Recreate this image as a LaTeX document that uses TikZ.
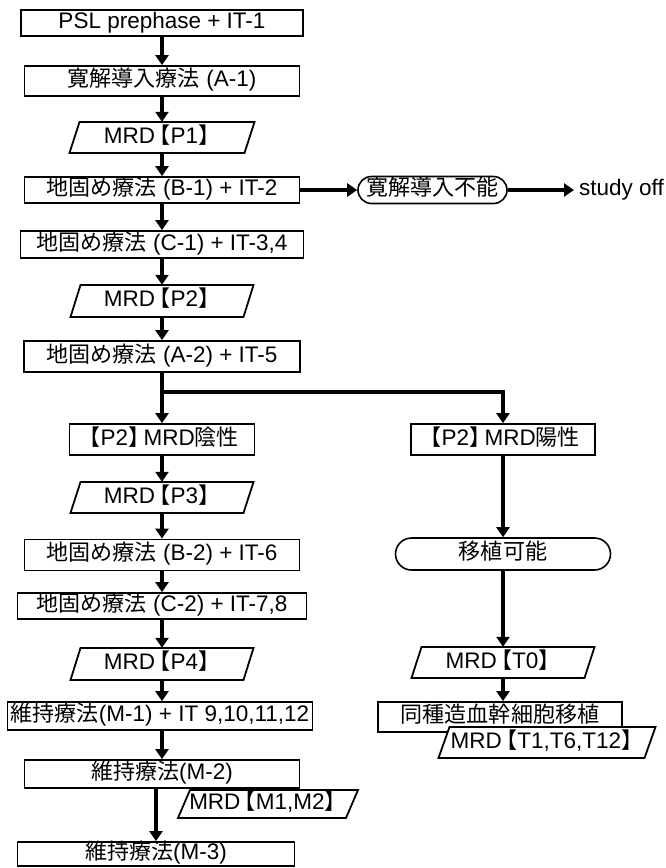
\documentclass[tikz,border=0pt]{standalone}
\usepackage{fontspec}
\setmainfont{Liberation Sans}
\newfontfamily\jp{Noto Sans CJK JP}[Scale=0.98]
\usetikzlibrary{arrows.meta}

% tightened lenticular brackets
\newcommand\lbr{{\jp\hspace{-0.3em}【}}
\newcommand\rbr{{\jp】\hspace{-0.3em}}}

% slanted data box: name, centre x, centre y, half width at mid height, height, slant, text
\newcommand\mrdbox[7]{%
  \draw[pshape] (#2-#4-#6/2,#3+#5/2) -- (#2-#4+#6/2,#3-#5/2)
    -- (#2+#4+#6/2,#3-#5/2) -- (#2+#4-#6/2,#3+#5/2) -- cycle;
  \node[minimum width=2*#4, minimum height=#5] (#1) at (#2,#3) {#7};
}

\begin{document}
\begin{tikzpicture}[x=1pt,y=-1pt,
  every node/.style={font={\fontsize{22.5}{25}\selectfont}, inner sep=0pt,
    text height=15pt, text depth=3.3pt},
  box/.style={draw, line width=1.8pt, fill=white, rectangle},
  stadium/.style={draw, line width=1.6pt, fill=white, rectangle, rounded corners=#1},
  pshape/.style={draw, line width=1.8pt, fill=white, line join=miter},
  arr/.style={line width=3.5pt, -{Triangle[length=10pt,width=13pt]}},
]
\useasboundingbox (0,0) rectangle (666,868);

% main sequence (left column)
\node[box, minimum width=282, minimum height=26] (n1) at (162,23) {PSL prephase + IT-1};
\node[box, minimum width=275, minimum height=30] (n2) at (162,81) {{\jp 寛解導入療法} (A-1)};
\mrdbox{p1}{162}{137.5}{87.5}{31}{10}{MRD\lbr P1\rbr}
\node[box, minimum width=275, minimum height=26] (n4) at (162,190) {{\jp 地固め療法} (B-1) + IT-2};
\node[box, minimum width=283, minimum height=27] (n5) at (162,244.5) {{\jp 地固め療法} (C-1) + IT-3,4};
\mrdbox{p2}{162}{301}{86.5}{32}{10}{MRD\lbr P2\rbr}
\node[box, minimum width=276, minimum height=31] (n7) at (162,356.5) {{\jp 地固め療法} (A-2) + IT-5};
\coordinate (j) at (162,392);
\coordinate (jr) at (503,392);
\node[box, minimum width=185, minimum height=31] (n8) at (162,439.5) {\lbr P2\rbr MRD{\jp 陰性}};
\mrdbox{p3}{162}{497.5}{86.5}{31}{10}{MRD\lbr P3\rbr}
\node[box, minimum width=275, minimum height=31] (n10) at (162,555) {{\jp 地固め療法} (B-2) + IT-6};
\node[box, minimum width=289, minimum height=26] (n11) at (162,606) {{\jp 地固め療法} (C-2) + IT-7,8};
\mrdbox{p4}{162}{664}{86.5}{32}{10}{MRD\lbr P4\rbr}
\node[box, minimum width=305, minimum height=28] (n12) at (160,716) {{\jp 維持療法}(M-1) + IT 9,10,11,12};
\node[box, minimum width=275, minimum height=28] (n13) at (162,774) {{\jp 維持療法}(M-2)};
\mrdbox{pm}{268}{804}{84}{28}{12}{MRD\lbr M1,M2\rbr}
\node[box, minimum width=277, minimum height=24] (n14) at (156,854) {{\jp 維持療法}(M-3)};

% induction failure exit
\node[stadium=13.5pt, minimum width=149, minimum height=27] (nofail) at (432.5,190) {{\jp 寛解導入不能}};
\node[anchor=west] (off) at (579,190) {study off};

% MRD positive branch (right column)
\node[box, minimum width=184, minimum height=31] (n9) at (503,439.5) {\lbr P2\rbr MRD{\jp 陽性}};
\node[stadium=16pt, minimum width=215, minimum height=32] (n15) at (503,554) {{\jp 移植可能}};
\mrdbox{t0}{503}{662.5}{86.5}{31}{10}{MRD\lbr T0\rbr}
\node[box, minimum width=244, minimum height=30] (n16) at (500,717) {{\jp 同種造血幹細胞移植}};
\mrdbox{t1}{547}{742.5}{103}{31}{11}{MRD\lbr T1,T6,T12\rbr}

% connectors
\draw[arr] (n1) -- (n2);
\draw[arr] (n2) -- (p1);
\draw[arr] (p1) -- (n4);
\draw[arr] (n4) -- (n5);
\draw[arr] (n5) -- (p2);
\draw[arr] (p2) -- (n7);
\draw[arr] (n7) -- (j) -- (n8);
\draw[arr] (j) -- (jr) -- (n9);
\draw[arr] (n8) -- (p3);
\draw[arr] (p3) -- (n10);
\draw[arr] (n10) -- (n11);
\draw[arr] (n11) -- (p4);
\draw[arr] (p4.south) -- (p4.south |- n12.north);
\draw[arr] (n12.south -| n13.north) -- (n13.north);
\draw[arr] (n13.south -| n14.north) -- (n14.north);

\draw[arr] (n4) -- (nofail);
\draw[arr] (nofail) -- ([xshift=-5pt]off.west);

\draw[arr] (n9) -- (n15);
\draw[arr] (n15) -- (t0);
\draw[arr] (t0.south) -- (t0.south |- n16.north);
\end{tikzpicture}
\end{document}
